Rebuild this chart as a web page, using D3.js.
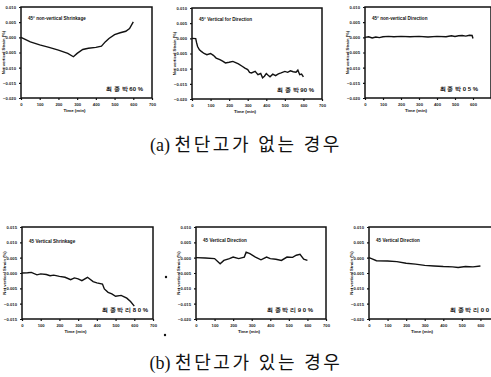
<!DOCTYPE html>
<html><head><meta charset="utf-8">
<script src="https://cdn.jsdelivr.net/npm/d3@7"></script>
<style>body{margin:0;background:#fff}svg{display:block}</style>
</head><body>
<svg id="c" width="491" height="377"></svg>
<script>
const xTicks = [0,100,200,300,400,500,600,700];
const yTicksA = [0.010,0.005,0.000,-0.005,-0.010,-0.015,-0.020];
const yTicksB = [0.015,0.010,0.005,0.000,-0.005,-0.010,-0.015];

const t1 = [0,50,100,150,200,250,280,300,330,360,400,430,450,470,500,530,560,580,600];
const v1 = [0,-0.0015,-0.0025,-0.0033,-0.0042,-0.0053,-0.0064,-0.0053,-0.004,-0.0036,-0.0033,-0.0029,-0.0015,-0.0004,0.0009,0.0015,0.002,0.0029,0.0051];

const t2 = [0,20,25,30,40,50,65,80,100,115,130,150,165,180,200,220,235,250,270,285,300,310,320,340,355,370,380,390,400,410,420,435,450,465,480,500,515,530,545,560,570,580,590,600];
const v2 = [0,-0.0001,-0.0015,-0.0027,-0.0038,-0.0043,-0.005,-0.0054,-0.005,-0.0056,-0.0065,-0.007,-0.0075,-0.0081,-0.0079,-0.0076,-0.008,-0.0084,-0.0092,-0.0098,-0.0103,-0.0112,-0.0114,-0.0109,-0.012,-0.0116,-0.013,-0.0125,-0.0116,-0.0122,-0.0127,-0.0118,-0.0123,-0.0117,-0.0114,-0.0109,-0.0112,-0.0107,-0.011,-0.0112,-0.0105,-0.012,-0.0118,-0.0127];

const t3 = [0,20,40,60,80,100,130,160,200,250,300,350,400,450,480,500,520,540,560,580,595,600];
const v3 = [0,0.0002,-0.0002,0.0001,-0.0001,0.0002,0.0003,0.0002,0.0003,0.0002,0.0003,0.0001,0.0003,0.0002,0.0005,0.0003,0.0005,0.0006,0.0004,0.0007,0.0006,-0.0004];

const t4 = [0,30,50,80,100,130,150,170,200,230,260,280,300,320,350,380,400,430,440,460,480,500,530,560,580,600];
const v4 = [0,0.0001,0.0002,-0.0006,-0.0003,-0.0005,-0.0009,-0.0007,-0.0011,-0.0014,-0.0022,-0.0016,-0.0019,-0.0025,-0.0014,-0.0028,-0.0032,-0.0036,-0.0052,-0.0063,-0.0068,-0.0076,-0.0073,-0.0082,-0.0093,-0.0108];

const t5 = [0,50,100,130,150,180,200,230,260,270,290,320,350,380,400,430,460,490,520,540,560,580,600];
const v5 = [0,-0.0001,-0.0003,-0.002,-0.0009,-0.0003,0.0002,-0.0003,0.0002,0.0018,0.0013,0.0002,-0.0007,0.0002,-0.0003,-0.0005,-0.0009,0.0002,0.0001,0.0008,0.0011,-0.0005,-0.0009];

const t6 = [0,20,40,100,150,200,250,300,350,400,450,480,520,560,600];
const v6 = [0,-0.0005,-0.001,-0.0011,-0.0013,-0.0018,-0.0021,-0.0025,-0.0027,-0.0029,-0.003,-0.0032,-0.0029,-0.003,-0.0027];

const titles = ["45° non-vertical Shrinkage","45° Vertical for Direction","45° non-vertical Direction","45 Vertical Shrinkage","45 Vertical Direction","45 Vertical Direction"];
const notes = ["최 종 박 60 %","최 종 박 90 %","최 종 박 0 5 %","최 종 박 리 8 0 %","최 종 박 리 9 0 %","최 종 박 리 0 0"];
const capPrefix = ["(a)","(b)"];
const capText = ["천단고가 없는 경우","천단고가 있는 경우"];

const panels = [
  {x0:21,x1:152,y0:7,y1:98,t:t1,v:v1,yt:yTicksA,ty:13,nx:143},
  {x0:192,x1:322,y0:8,y1:99,t:t2,v:v2,yt:yTicksA,ty:13,nx:314},
  {x0:365,x1:491,y0:7,y1:98,t:t3,v:v3,yt:yTicksA,ty:13,nx:478},
  {x0:22,x1:153,y0:227,y1:319,t:t4,v:v4,yt:yTicksB,ty:16,nx:148},
  {x0:196,x1:326,y0:227,y1:319,t:t5,v:v5,yt:yTicksA,ty:15,nx:313},
  {x0:369,x1:499,y0:227,y1:319,t:t6,v:v6,yt:yTicksA,ty:15,nx:489}
];

const svg = d3.select("#c");
panels.forEach((p,i)=>{
  const x = d3.scaleLinear().domain([0,700]).range([p.x0,p.x1]);
  const y = d3.scaleLinear().domain([p.yt[p.yt.length-1],p.yt[0]]).range([p.y1,p.y0]);
  const g = svg.append("g").attr("font-family","Liberation Sans, Arial, sans-serif").attr("font-weight","bold").attr("fill","#111");
  const ax = g.append("g").attr("transform",`translate(0,${p.y1})`)
    .call(d3.axisBottom(x).tickValues(xTicks).tickSize(2).tickFormat(d3.format("d")));
  const ay = g.append("g").attr("transform",`translate(${p.x0},0)`)
    .call(d3.axisLeft(y).tickValues(p.yt).tickSize(2).tickFormat(d3.format(".3f")));
  [ax,ay].forEach(a=>{
    a.select(".domain").remove();
    a.selectAll("line").attr("stroke","#111").attr("stroke-width",1.2);
    a.selectAll("text").attr("font-size",4.2).attr("font-weight","bold").attr("fill","#222");
  });
  ax.selectAll(".tick").filter(d=>x(d)>484).select("text").remove();
  g.append("rect").attr("x",p.x0).attr("y",p.y0).attr("width",p.x1-p.x0).attr("height",p.y1-p.y0)
    .attr("fill","none").attr("stroke","#111").attr("stroke-width",1.5);
  g.append("path").datum(p.t.map((d,k)=>[d,p.v[k]]))
    .attr("d",d3.line().x(d=>x(d[0])).y(d=>y(d[1])))
    .attr("fill","none").attr("stroke","#111").attr("stroke-width",1.4);
  g.append("text").attr("x",p.x0+7).attr("y",p.y0+p.ty).attr("font-size",4.6).text(titles[i]);
  g.append("text").attr("x",p.nx).attr("y",p.y1-7).attr("font-size",6).attr("text-anchor","end").text(notes[i]);
  g.append("text").attr("x",(p.x0+p.x1)/2-12).attr("y",p.y1+14).attr("font-size",4.4).attr("text-anchor","middle").text("Time (min)");
  g.append("text").attr("transform",`translate(${p.x0-16},${(p.y0+p.y1)/2}) rotate(-90)`)
    .attr("font-size",4.2).attr("text-anchor","middle").text("Net vertical Strain (%)");
});

svg.append("circle").attr("cx",166).attr("cy",277).attr("r",1.2).attr("fill","#111");
svg.append("circle").attr("cx",165).attr("cy",335).attr("r",1.2).attr("fill","#111");

const capY = [145,363];
capPrefix.forEach((c,i)=>{
  const t = svg.append("text").attr("x",246).attr("y",capY[i]).attr("dy","0.35em").attr("text-anchor","middle")
    .attr("font-family","Liberation Serif, Noto Sans CJK KR, serif").attr("font-size",18).attr("fill","#111");
  t.append("tspan").text(c + " ");
  t.append("tspan").attr("letter-spacing",2.6).text(capText[i]);
});
</script>
</body></html>
